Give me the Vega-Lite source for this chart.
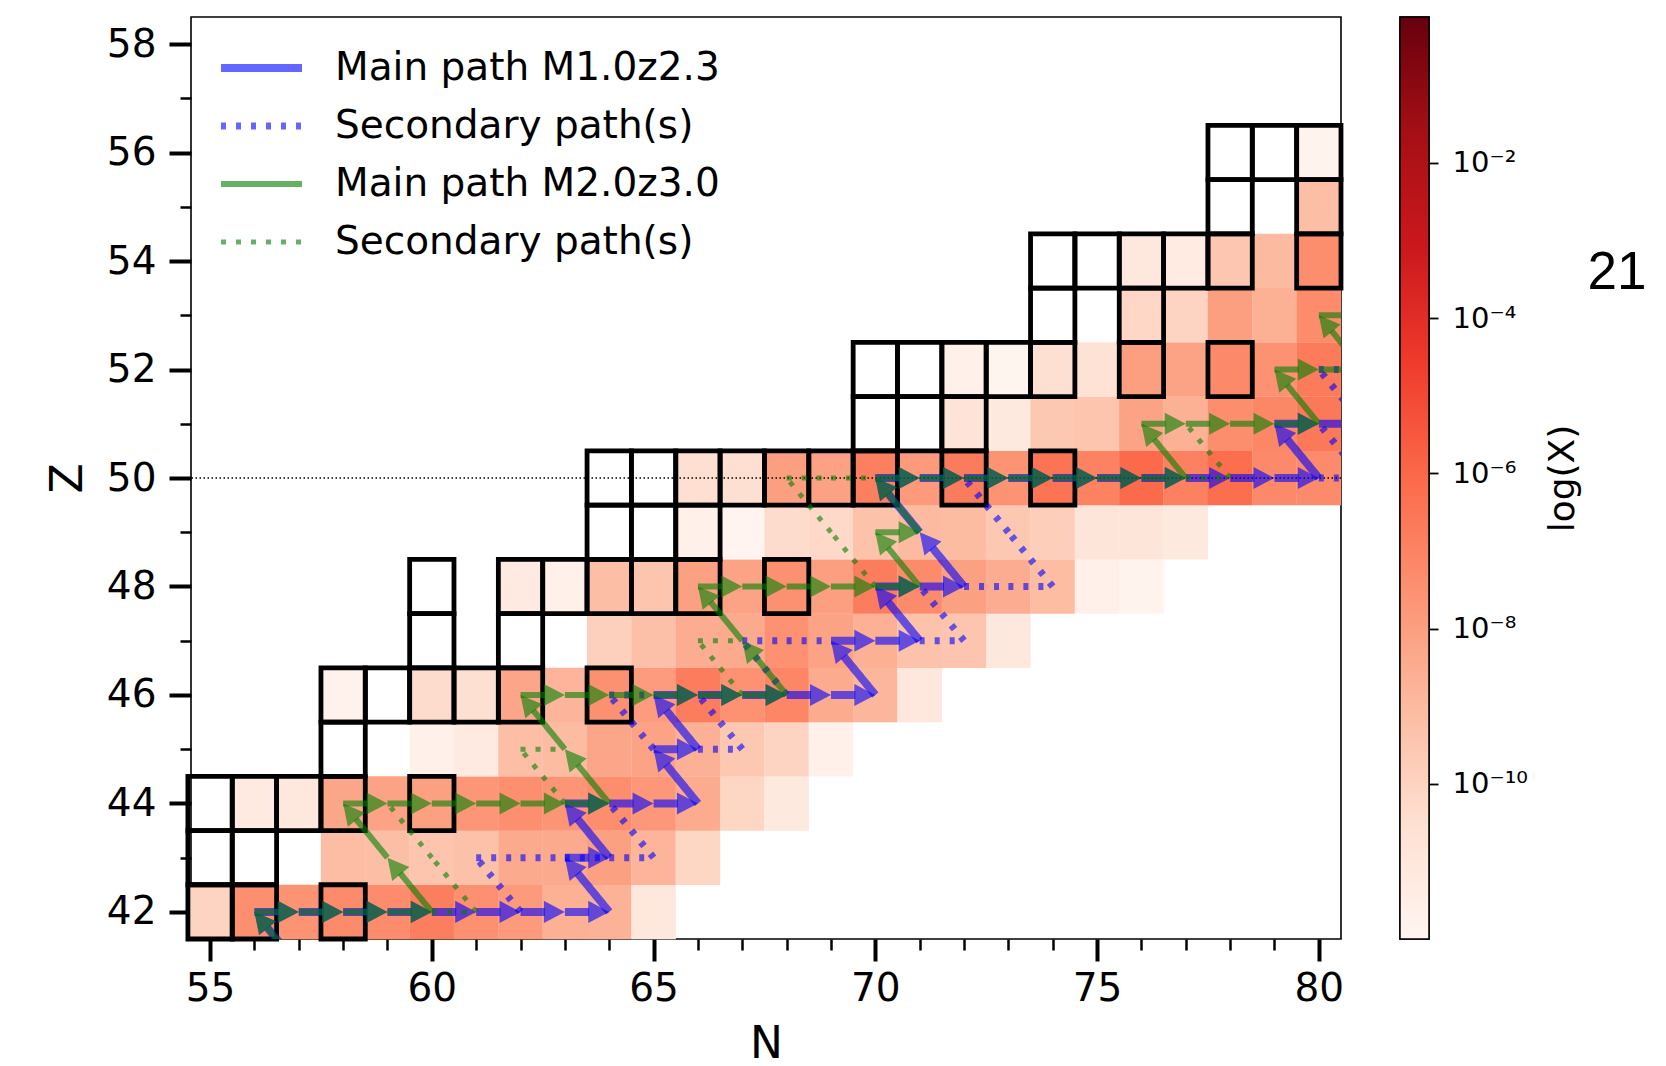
{
  "$schema": "https://vega.github.io/schema/vega-lite/v6.json",
  "background": "white",
  "padding": {"left": 45, "top": 15, "right": 0, "bottom": 0},
  "datasets": {
    "cells": [
      {"N":55,"Z":42,"logX":-10.0,"box":true},{"N":56,"Z":42,"logX":-7.44,"box":true},{"N":57,"Z":42,"logX":-7.58},{"N":58,"Z":42,"logX":-7.28,"box":true},{"N":59,"Z":42,"logX":-7.32},{"N":60,"Z":42,"logX":-6.8},{"N":61,"Z":42,"logX":-7.47},{"N":62,"Z":42,"logX":-7.83},{"N":63,"Z":42,"logX":-8.63},{"N":64,"Z":42,"logX":-8.71},{"N":65,"Z":42,"logX":-11.0},
      {"N":55,"Z":43,"logX":null,"box":true},{"N":56,"Z":43,"logX":null,"box":true},{"N":58,"Z":43,"logX":-9.11},{"N":59,"Z":43,"logX":-9.15},{"N":60,"Z":43,"logX":-9.43},{"N":61,"Z":43,"logX":-9.27},{"N":62,"Z":43,"logX":-8.41},{"N":63,"Z":43,"logX":-8.41},{"N":64,"Z":43,"logX":-8.05},{"N":65,"Z":43,"logX":-8.81},{"N":66,"Z":43,"logX":-10.1},
      {"N":55,"Z":44,"logX":null,"box":true},{"N":56,"Z":44,"logX":-11.22,"box":true},{"N":57,"Z":44,"logX":-11.08,"box":true},{"N":58,"Z":44,"logX":-8.27,"box":true},{"N":59,"Z":44,"logX":-8.16},{"N":60,"Z":44,"logX":-8.05,"box":true},{"N":61,"Z":44,"logX":-7.69},{"N":62,"Z":44,"logX":-7.44},{"N":63,"Z":44,"logX":-7.66},{"N":64,"Z":44,"logX":-7.36},{"N":65,"Z":44,"logX":-7.76},{"N":66,"Z":44,"logX":-8.45},{"N":67,"Z":44,"logX":-10.1},{"N":68,"Z":44,"logX":-11.15},
      {"N":58,"Z":45,"logX":null,"box":true},{"N":60,"Z":45,"logX":-11.65},{"N":61,"Z":45,"logX":-11.22},{"N":62,"Z":45,"logX":-9.15},{"N":63,"Z":45,"logX":-9.07},{"N":64,"Z":45,"logX":-8.27},{"N":65,"Z":45,"logX":-8.16},{"N":66,"Z":45,"logX":-8.67},{"N":67,"Z":45,"logX":-9.55},{"N":68,"Z":45,"logX":-10.0},{"N":69,"Z":45,"logX":-11.65},
      {"N":58,"Z":46,"logX":-11.8,"box":true},{"N":59,"Z":46,"logX":null,"box":true},{"N":60,"Z":46,"logX":-10.36,"box":true},{"N":61,"Z":46,"logX":-10.52,"box":true},{"N":62,"Z":46,"logX":-8.23,"box":true},{"N":63,"Z":46,"logX":-8.81},{"N":64,"Z":46,"logX":-7.51,"box":true},{"N":65,"Z":46,"logX":-7.88},{"N":66,"Z":46,"logX":-6.77},{"N":67,"Z":46,"logX":-7.55},{"N":68,"Z":46,"logX":-7.1},{"N":69,"Z":46,"logX":-8.45},{"N":70,"Z":46,"logX":-8.85},{"N":71,"Z":46,"logX":-11.0},
      {"N":60,"Z":47,"logX":null,"box":true},{"N":62,"Z":47,"logX":null,"box":true},{"N":64,"Z":47,"logX":-9.87},{"N":65,"Z":47,"logX":-9.23},{"N":66,"Z":47,"logX":-8.48},{"N":67,"Z":47,"logX":-8.41},{"N":68,"Z":47,"logX":-7.55},{"N":69,"Z":47,"logX":-8.16},{"N":70,"Z":47,"logX":-8.65},{"N":71,"Z":47,"logX":-9.31},{"N":72,"Z":47,"logX":-9.45},{"N":73,"Z":47,"logX":-11.08},
      {"N":60,"Z":48,"logX":null,"box":true},{"N":62,"Z":48,"logX":-11.22,"box":true},{"N":63,"Z":48,"logX":-11.65,"box":true},{"N":64,"Z":48,"logX":-9.15,"box":true},{"N":65,"Z":48,"logX":-9.41,"box":true},{"N":66,"Z":48,"logX":-8.05,"box":true},{"N":67,"Z":48,"logX":-8.16},{"N":68,"Z":48,"logX":-7.51,"box":true},{"N":69,"Z":48,"logX":-7.98},{"N":70,"Z":48,"logX":-6.77},{"N":71,"Z":48,"logX":-7.28},{"N":72,"Z":48,"logX":-8.05},{"N":73,"Z":48,"logX":-8.52},{"N":74,"Z":48,"logX":-9.1},{"N":75,"Z":48,"logX":-11.65},{"N":76,"Z":48,"logX":-11.86},
      {"N":64,"Z":49,"logX":null,"box":true},{"N":65,"Z":49,"logX":null,"box":true},{"N":66,"Z":49,"logX":-11.65,"box":true},{"N":67,"Z":49,"logX":-11.95},{"N":68,"Z":49,"logX":-10.36},{"N":69,"Z":49,"logX":-10.2},{"N":70,"Z":49,"logX":-9.31},{"N":71,"Z":49,"logX":-9.03},{"N":72,"Z":49,"logX":-9.07},{"N":73,"Z":49,"logX":-9.55},{"N":74,"Z":49,"logX":-9.8},{"N":75,"Z":49,"logX":-10.87},{"N":76,"Z":49,"logX":-10.85},{"N":77,"Z":49,"logX":-11.15},
      {"N":64,"Z":50,"logX":null,"box":true},{"N":65,"Z":50,"logX":null,"box":true},{"N":66,"Z":50,"logX":-10.52,"box":true},{"N":67,"Z":50,"logX":-10.52,"box":true},{"N":68,"Z":50,"logX":-8.02,"box":true},{"N":69,"Z":50,"logX":-8.09,"box":true},{"N":70,"Z":50,"logX":-6.84,"box":true},{"N":71,"Z":50,"logX":-7.83},{"N":72,"Z":50,"logX":-6.73,"box":true},{"N":73,"Z":50,"logX":-7.6},{"N":74,"Z":50,"logX":-6.45,"box":true},{"N":75,"Z":50,"logX":-6.95},{"N":76,"Z":50,"logX":-6.1},{"N":77,"Z":50,"logX":-6.91},{"N":78,"Z":50,"logX":-6.21},{"N":79,"Z":50,"logX":-7.25},{"N":80,"Z":50,"logX":-7.28},
      {"N":70,"Z":51,"logX":null,"box":true},{"N":71,"Z":51,"logX":null,"box":true},{"N":72,"Z":51,"logX":-10.8,"box":true},{"N":73,"Z":51,"logX":-11.15},{"N":74,"Z":51,"logX":-9.55},{"N":75,"Z":51,"logX":-9.41},{"N":76,"Z":51,"logX":-8.13},{"N":77,"Z":51,"logX":-8.63},{"N":78,"Z":51,"logX":-7.4},{"N":79,"Z":51,"logX":-7.14},{"N":80,"Z":51,"logX":-6.62},
      {"N":70,"Z":52,"logX":null,"box":true},{"N":71,"Z":52,"logX":null,"box":true},{"N":72,"Z":52,"logX":-11.65,"box":true},{"N":73,"Z":52,"logX":-11.97,"box":true},{"N":74,"Z":52,"logX":-10.52,"box":true},{"N":75,"Z":52,"logX":-10.66},{"N":76,"Z":52,"logX":-7.98,"box":true},{"N":77,"Z":52,"logX":-8.13},{"N":78,"Z":52,"logX":-7.25,"box":true},{"N":79,"Z":52,"logX":-7.55},{"N":80,"Z":52,"logX":-6.69},
      {"N":74,"Z":53,"logX":null,"box":true},{"N":76,"Z":53,"logX":-10.16,"box":true},{"N":77,"Z":53,"logX":-10.0},{"N":78,"Z":53,"logX":-7.98},{"N":79,"Z":53,"logX":-8.63},{"N":80,"Z":53,"logX":-7.32},
      {"N":74,"Z":54,"logX":null,"box":true},{"N":75,"Z":54,"logX":null,"box":true},{"N":76,"Z":54,"logX":-11.08,"box":true},{"N":77,"Z":54,"logX":-11.3,"box":true},{"N":78,"Z":54,"logX":-9.47,"box":true},{"N":79,"Z":54,"logX":-9.03},{"N":80,"Z":54,"logX":-7.36,"box":true},
      {"N":78,"Z":55,"logX":null,"box":true},{"N":80,"Z":55,"logX":-9.15,"box":true},
      {"N":78,"Z":56,"logX":null,"box":true},{"N":79,"Z":56,"logX":null,"box":true},{"N":80,"Z":56,"logX":-11.86,"box":true}
    ],
    "steps": [
      {"series":"b1","step":"b","N0":57,"Z0":41,"N1":56,"Z1":42},
      {"series":"b1","step":"n","N0":56,"Z0":42,"N1":57,"Z1":42},
      {"series":"b1","step":"n","N0":57,"Z0":42,"N1":58,"Z1":42},
      {"series":"b1","step":"n","N0":58,"Z0":42,"N1":59,"Z1":42},
      {"series":"b1","step":"n","N0":59,"Z0":42,"N1":60,"Z1":42},
      {"series":"b1","step":"n","N0":60,"Z0":42,"N1":61,"Z1":42},
      {"series":"b1","step":"n","N0":61,"Z0":42,"N1":62,"Z1":42},
      {"series":"b1","step":"n","N0":62,"Z0":42,"N1":63,"Z1":42},
      {"series":"b1","step":"n","N0":63,"Z0":42,"N1":64,"Z1":42},
      {"series":"b1","step":"b","N0":64,"Z0":42,"N1":63,"Z1":43},
      {"series":"b1","step":"n","N0":63,"Z0":43,"N1":64,"Z1":43},
      {"series":"b1","step":"b","N0":64,"Z0":43,"N1":63,"Z1":44},
      {"series":"b1","step":"n","N0":63,"Z0":44,"N1":64,"Z1":44},
      {"series":"b1","step":"n","N0":64,"Z0":44,"N1":65,"Z1":44},
      {"series":"b1","step":"n","N0":65,"Z0":44,"N1":66,"Z1":44},
      {"series":"b1","step":"b","N0":66,"Z0":44,"N1":65,"Z1":45},
      {"series":"b1","step":"n","N0":65,"Z0":45,"N1":66,"Z1":45},
      {"series":"b1","step":"b","N0":66,"Z0":45,"N1":65,"Z1":46},
      {"series":"b1","step":"n","N0":65,"Z0":46,"N1":66,"Z1":46},
      {"series":"b1","step":"n","N0":66,"Z0":46,"N1":67,"Z1":46},
      {"series":"b1","step":"n","N0":67,"Z0":46,"N1":68,"Z1":46},
      {"series":"b1","step":"n","N0":68,"Z0":46,"N1":69,"Z1":46},
      {"series":"b1","step":"n","N0":69,"Z0":46,"N1":70,"Z1":46},
      {"series":"b1","step":"b","N0":70,"Z0":46,"N1":69,"Z1":47},
      {"series":"b1","step":"n","N0":69,"Z0":47,"N1":70,"Z1":47},
      {"series":"b1","step":"n","N0":70,"Z0":47,"N1":71,"Z1":47},
      {"series":"b1","step":"b","N0":71,"Z0":47,"N1":70,"Z1":48},
      {"series":"b1","step":"n","N0":70,"Z0":48,"N1":71,"Z1":48},
      {"series":"b1","step":"n","N0":71,"Z0":48,"N1":72,"Z1":48},
      {"series":"b1","step":"b","N0":72,"Z0":48,"N1":71,"Z1":49},
      {"series":"b1","step":"b","N0":71,"Z0":49,"N1":70,"Z1":50},
      {"series":"b1","step":"n","N0":70,"Z0":50,"N1":71,"Z1":50},
      {"series":"b1","step":"n","N0":71,"Z0":50,"N1":72,"Z1":50},
      {"series":"b1","step":"n","N0":72,"Z0":50,"N1":73,"Z1":50},
      {"series":"b1","step":"n","N0":73,"Z0":50,"N1":74,"Z1":50},
      {"series":"b1","step":"n","N0":74,"Z0":50,"N1":75,"Z1":50},
      {"series":"b1","step":"n","N0":75,"Z0":50,"N1":76,"Z1":50},
      {"series":"b1","step":"n","N0":76,"Z0":50,"N1":77,"Z1":50},
      {"series":"b1","step":"n","N0":77,"Z0":50,"N1":78,"Z1":50},
      {"series":"b1","step":"n","N0":78,"Z0":50,"N1":79,"Z1":50},
      {"series":"b1","step":"n","N0":79,"Z0":50,"N1":80,"Z1":50},
      {"series":"b1","step":"b","N0":80,"Z0":50,"N1":79,"Z1":51},
      {"series":"b1","step":"n","N0":79,"Z0":51,"N1":80,"Z1":51},
      {"series":"b1","step":"n","N0":80,"Z0":51,"N1":81,"Z1":51},
      {"series":"b2","step":"b","N0":62,"Z0":42,"N1":61,"Z1":43},
      {"series":"b2","step":"n","N0":61,"Z0":43,"N1":62,"Z1":43},
      {"series":"b2","step":"n","N0":62,"Z0":43,"N1":63,"Z1":43},
      {"series":"b2","step":"n","N0":63,"Z0":43,"N1":64,"Z1":43},
      {"series":"b2","step":"n","N0":64,"Z0":43,"N1":65,"Z1":43},
      {"series":"b2","step":"b","N0":65,"Z0":43,"N1":64,"Z1":44},
      {"series":"b2","step":"b","N0":65,"Z0":45,"N1":64,"Z1":46},
      {"series":"b2","step":"n","N0":64,"Z0":46,"N1":65,"Z1":46},
      {"series":"b2","step":"n","N0":66,"Z0":45,"N1":67,"Z1":45},
      {"series":"b2","step":"b","N0":67,"Z0":45,"N1":66,"Z1":46},
      {"series":"b2","step":"b","N0":68,"Z0":46,"N1":67,"Z1":47},
      {"series":"b2","step":"n","N0":67,"Z0":47,"N1":68,"Z1":47},
      {"series":"b2","step":"n","N0":68,"Z0":47,"N1":69,"Z1":47},
      {"series":"b2","step":"n","N0":71,"Z0":47,"N1":72,"Z1":47},
      {"series":"b2","step":"b","N0":72,"Z0":47,"N1":71,"Z1":48},
      {"series":"b2","step":"n","N0":72,"Z0":48,"N1":73,"Z1":48},
      {"series":"b2","step":"n","N0":73,"Z0":48,"N1":74,"Z1":48},
      {"series":"b2","step":"b","N0":74,"Z0":48,"N1":73,"Z1":49},
      {"series":"b2","step":"b","N0":73,"Z0":49,"N1":72,"Z1":50},
      {"series":"b2","step":"n","N0":80,"Z0":50,"N1":81,"Z1":50},
      {"series":"b2","step":"b","N0":81,"Z0":50,"N1":80,"Z1":51},
      {"series":"b2","step":"b","N0":81,"Z0":51,"N1":80,"Z1":52},
      {"series":"b2","step":"n","N0":80,"Z0":52,"N1":81,"Z1":52},
      {"series":"g1","step":"b","N0":57,"Z0":41,"N1":56,"Z1":42},
      {"series":"g1","step":"n","N0":56,"Z0":42,"N1":57,"Z1":42},
      {"series":"g1","step":"n","N0":57,"Z0":42,"N1":58,"Z1":42},
      {"series":"g1","step":"n","N0":58,"Z0":42,"N1":59,"Z1":42},
      {"series":"g1","step":"n","N0":59,"Z0":42,"N1":60,"Z1":42},
      {"series":"g1","step":"b","N0":60,"Z0":42,"N1":59,"Z1":43},
      {"series":"g1","step":"b","N0":59,"Z0":43,"N1":58,"Z1":44},
      {"series":"g1","step":"n","N0":58,"Z0":44,"N1":59,"Z1":44},
      {"series":"g1","step":"n","N0":59,"Z0":44,"N1":60,"Z1":44},
      {"series":"g1","step":"n","N0":60,"Z0":44,"N1":61,"Z1":44},
      {"series":"g1","step":"n","N0":61,"Z0":44,"N1":62,"Z1":44},
      {"series":"g1","step":"n","N0":62,"Z0":44,"N1":63,"Z1":44},
      {"series":"g1","step":"n","N0":63,"Z0":44,"N1":64,"Z1":44},
      {"series":"g1","step":"b","N0":64,"Z0":44,"N1":63,"Z1":45},
      {"series":"g1","step":"b","N0":63,"Z0":45,"N1":62,"Z1":46},
      {"series":"g1","step":"n","N0":62,"Z0":46,"N1":63,"Z1":46},
      {"series":"g1","step":"n","N0":63,"Z0":46,"N1":64,"Z1":46},
      {"series":"g1","step":"n","N0":64,"Z0":46,"N1":65,"Z1":46},
      {"series":"g1","step":"n","N0":65,"Z0":46,"N1":66,"Z1":46},
      {"series":"g1","step":"n","N0":66,"Z0":46,"N1":67,"Z1":46},
      {"series":"g1","step":"n","N0":67,"Z0":46,"N1":68,"Z1":46},
      {"series":"g1","step":"b","N0":68,"Z0":46,"N1":67,"Z1":47},
      {"series":"g1","step":"b","N0":67,"Z0":47,"N1":66,"Z1":48},
      {"series":"g1","step":"n","N0":66,"Z0":48,"N1":67,"Z1":48},
      {"series":"g1","step":"n","N0":67,"Z0":48,"N1":68,"Z1":48},
      {"series":"g1","step":"n","N0":68,"Z0":48,"N1":69,"Z1":48},
      {"series":"g1","step":"n","N0":69,"Z0":48,"N1":70,"Z1":48},
      {"series":"g1","step":"n","N0":70,"Z0":48,"N1":71,"Z1":48},
      {"series":"g1","step":"b","N0":71,"Z0":48,"N1":70,"Z1":49},
      {"series":"g1","step":"n","N0":70,"Z0":49,"N1":71,"Z1":49},
      {"series":"g1","step":"b","N0":71,"Z0":49,"N1":70,"Z1":50},
      {"series":"g1","step":"n","N0":70,"Z0":50,"N1":71,"Z1":50},
      {"series":"g1","step":"n","N0":71,"Z0":50,"N1":72,"Z1":50},
      {"series":"g1","step":"n","N0":72,"Z0":50,"N1":73,"Z1":50},
      {"series":"g1","step":"n","N0":73,"Z0":50,"N1":74,"Z1":50},
      {"series":"g1","step":"n","N0":74,"Z0":50,"N1":75,"Z1":50},
      {"series":"g1","step":"n","N0":75,"Z0":50,"N1":76,"Z1":50},
      {"series":"g1","step":"n","N0":76,"Z0":50,"N1":77,"Z1":50},
      {"series":"g1","step":"b","N0":77,"Z0":50,"N1":76,"Z1":51},
      {"series":"g1","step":"n","N0":76,"Z0":51,"N1":77,"Z1":51},
      {"series":"g1","step":"n","N0":77,"Z0":51,"N1":78,"Z1":51},
      {"series":"g1","step":"n","N0":78,"Z0":51,"N1":79,"Z1":51},
      {"series":"g1","step":"n","N0":79,"Z0":51,"N1":80,"Z1":51},
      {"series":"g1","step":"b","N0":80,"Z0":51,"N1":79,"Z1":52},
      {"series":"g1","step":"n","N0":79,"Z0":52,"N1":80,"Z1":52},
      {"series":"g1","step":"n","N0":80,"Z0":52,"N1":81,"Z1":52},
      {"series":"g1","step":"b","N0":81,"Z0":52,"N1":80,"Z1":53},
      {"series":"g1","step":"n","N0":80,"Z0":53,"N1":81,"Z1":53},
      {"series":"g2","step":"n","N0":60,"Z0":42,"N1":61,"Z1":42},
      {"series":"g2","step":"b","N0":61,"Z0":42,"N1":60,"Z1":43},
      {"series":"g2","step":"b","N0":60,"Z0":43,"N1":59,"Z1":44},
      {"series":"g2","step":"b","N0":63,"Z0":44,"N1":62,"Z1":45},
      {"series":"g2","step":"n","N0":62,"Z0":45,"N1":63,"Z1":45},
      {"series":"g2","step":"b","N0":67,"Z0":46,"N1":66,"Z1":47},
      {"series":"g2","step":"n","N0":66,"Z0":47,"N1":67,"Z1":47},
      {"series":"g2","step":"b","N0":70,"Z0":48,"N1":69,"Z1":49},
      {"series":"g2","step":"b","N0":69,"Z0":49,"N1":68,"Z1":50},
      {"series":"g2","step":"n","N0":68,"Z0":50,"N1":69,"Z1":50},
      {"series":"g2","step":"n","N0":69,"Z0":50,"N1":70,"Z1":50},
      {"series":"g2","step":"n","N0":77,"Z0":50,"N1":78,"Z1":50},
      {"series":"g2","step":"b","N0":78,"Z0":50,"N1":77,"Z1":51}
    ]
  },
  "spacing": 46,
  "resolve": {
    "scale": {"color": "independent", "strokeDash": "independent", "strokeWidth": "independent", "fill": "independent"},
    "legend": {"color": "independent", "strokeDash": "independent", "strokeWidth": "independent", "fill": "independent"}
  },
  "hconcat": [
    {
      "width": 1150,
      "height": 922,
      "layer": [
        {
          "data": {"name": "cells"},
          "transform": [{"filter": "datum.logX != null"}],
          "mark": {"type": "point", "shape": "M-1,-1.222L1,-1.222L1,1.222L-1,1.222Z", "size": 1989, "filled": true, "opacity": 1, "strokeWidth": 0},
          "encoding": {
            "x": {"field": "N", "type": "quantitative", "title": "N",
              "scale": {"domain": [54.57, 80.5], "nice": false, "zero": false},
              "axis": {"values": [55,56,57,58,59,60,61,62,63,64,65,66,67,68,69,70,71,72,73,74,75,76,77,78,79,80],
                "labelExpr": "datum.value % 5 === 0 ? datum.label : ''",
                "tickSize": {"condition": {"test": "datum.value % 5 === 0", "value": 22}, "value": 11},
                "tickWidth": {"condition": {"test": "datum.value % 5 === 0", "value": 4}, "value": 2.5},
                "labelPadding": 8, "titlePadding": 14, "grid": false, "domain": false, "labelOverlap": false, "labelFlush": false}},
            "y": {"field": "Z", "type": "quantitative", "title": "Z",
              "scale": {"domain": [41.5, 58.5], "nice": false, "zero": false},
              "axis": {"values": [42,43,44,45,46,47,48,49,50,51,52,53,54,55,56,57,58],
                "labelExpr": "datum.value % 2 === 0 ? datum.label : ''",
                "tickSize": {"condition": {"test": "datum.value % 2 === 0", "value": 22}, "value": 11},
                "tickWidth": {"condition": {"test": "datum.value % 2 === 0", "value": 4}, "value": 2.5},
                "labelPadding": 13, "titlePadding": 16, "grid": false, "domain": false, "labelOverlap": false, "labelFlush": false}},
            "fill": {"field": "logX", "type": "quantitative",
              "scale": {"domain": [-12, -10.515, -9.03, -7.545, -6.06, -4.575, -3.09, -1.605, -0.12],
                "range": ["#fff5f0","#fee0d2","#fcbba1","#fc9272","#fb6a4a","#ef3b2c","#cb181d","#a50f15","#67000d"], "interpolate": "rgb"},
              "legend": null}
          }
        },
        {
          "data": {"name": "cells"},
          "transform": [{"filter": "datum.box"}],
          "mark": {"type": "point", "shape": "M-1,-1.2236L1,-1.2236L1,1.2236L-1,1.2236Z", "size": 1965, "filled": false, "stroke": "black", "color": "black", "strokeWidth": 4.8, "opacity": 1},
          "encoding": {
            "x": {"field": "N", "type": "quantitative", "title": "N"},
            "y": {"field": "Z", "type": "quantitative", "title": "Z"}
          }
        },
        {
          "data": {"values": [{}]},
          "mark": {"type": "rule", "strokeDash": [1.5, 2.5], "strokeWidth": 1.3, "color": "black"},
          "encoding": {"y": {"datum": 50, "type": "quantitative"}}
        },
        {
          "data": {"name": "steps"},
          "transform": [{"filter": "datum.series == 'b1' && datum.step == 'n'"}],
          "mark": {"type": "rule", "opacity": 0.6, "clip": true, "x2Offset": -20},
          "encoding": {
            "x": {"field": "N0", "type": "quantitative", "title": "N"}, "x2": {"field": "N1"},
            "y": {"field": "Z0", "type": "quantitative", "title": "Z"}, "y2": {"field": "Z1"},
            "color": {"field": "series", "type": "nominal", "scale": {"domain": ["b1","b2","g1","g2"], "range": ["#0000ff","#0000ff","#008000","#008000"]},
              "legend": {"orient": "none", "legendX": 26, "legendY": 32, "title": null, "padding": 0, "symbolType": "stroke", "symbolSize": 6561, "symbolOpacity": 0.6, "symbolStrokeWidth": 6, "labelOffset": 29, "rowPadding": 19, "clipHeight": 38, "labelFontSize": 39, "labelFont": "DejaVu Sans", "labelColor": "black", "labelLimit": 0,
                "labelExpr": "datum.value == 'b1' ? 'Main path M1.0z2.3' : datum.value == 'g1' ? 'Main path M2.0z3.0' : 'Secondary path(s)'"}},
            "strokeDash": {"field": "series", "type": "nominal", "scale": {"domain": ["b1","b2","g1","g2"], "range": [[1,0],[5,10],[1,0],[5,10]]},
              "legend": {"orient": "none", "legendX": 26, "legendY": 32, "title": null, "padding": 0, "symbolType": "stroke", "symbolSize": 6561, "symbolOpacity": 0.6, "symbolStrokeWidth": 6, "labelOffset": 29, "rowPadding": 19, "clipHeight": 38, "labelFontSize": 39, "labelFont": "DejaVu Sans", "labelColor": "black", "labelLimit": 0,
                "labelExpr": "datum.value == 'b1' ? 'Main path M1.0z2.3' : datum.value == 'g1' ? 'Main path M2.0z3.0' : 'Secondary path(s)'"}},
            "strokeWidth": {"field": "series", "type": "nominal", "scale": {"domain": ["b1","b2","g1","g2"], "range": [8,5,8,5]},
              "legend": {"orient": "none", "legendX": 26, "legendY": 32, "title": null, "padding": 0, "symbolType": "stroke", "symbolSize": 6561, "symbolOpacity": 0.6, "symbolStrokeWidth": 6, "labelOffset": 29, "rowPadding": 19, "clipHeight": 38, "labelFontSize": 39, "labelFont": "DejaVu Sans", "labelColor": "black", "labelLimit": 0,
                "labelExpr": "datum.value == 'b1' ? 'Main path M1.0z2.3' : datum.value == 'g1' ? 'Main path M2.0z3.0' : 'Secondary path(s)'"}}
          }
        },
        {
          "data": {"name": "steps"},
          "transform": [{"filter": "datum.series == 'b1' && datum.step == 'b'"}],
          "mark": {"type": "rule", "opacity": 0.6, "clip": true, "x2Offset": 12.66, "y2Offset": 15.48},
          "encoding": {
            "x": {"field": "N0", "type": "quantitative", "title": "N"}, "x2": {"field": "N1"},
            "y": {"field": "Z0", "type": "quantitative", "title": "Z"}, "y2": {"field": "Z1"},
            "color": {"field": "series", "type": "nominal"},
            "strokeDash": {"field": "series", "type": "nominal"},
            "strokeWidth": {"field": "series", "type": "nominal"}
          }
        },
        {
          "data": {"name": "steps"},
          "transform": [{"filter": "datum.series == 'b1' && datum.step == 'n'"}],
          "mark": {"type": "point", "shape": "M0,0L-2,-1.05L-2,1.05Z", "size": 441, "filled": true, "color": "#0000ff", "opacity": 0.6, "strokeWidth": 0, "angle": 0, "clip": true},
          "encoding": {"x": {"field": "N1", "type": "quantitative", "title": "N"}, "y": {"field": "Z1", "type": "quantitative", "title": "Z"}}
        },
        {
          "data": {"name": "steps"},
          "transform": [{"filter": "datum.series == 'b1' && datum.step == 'b'"}],
          "mark": {"type": "point", "shape": "M0,0L-2,-1.05L-2,1.05Z", "size": 441, "filled": true, "color": "#0000ff", "opacity": 0.6, "strokeWidth": 0, "angle": 230.73, "clip": true},
          "encoding": {"x": {"field": "N1", "type": "quantitative", "title": "N"}, "y": {"field": "Z1", "type": "quantitative", "title": "Z"}}
        },
        {
          "data": {"name": "steps"},
          "transform": [{"filter": "datum.series == 'b2'"}],
          "mark": {"type": "rule", "opacity": 0.6, "clip": true},
          "encoding": {
            "x": {"field": "N0", "type": "quantitative", "title": "N"}, "x2": {"field": "N1"},
            "y": {"field": "Z0", "type": "quantitative", "title": "Z"}, "y2": {"field": "Z1"},
            "color": {"field": "series", "type": "nominal"},
            "strokeDash": {"field": "series", "type": "nominal"},
            "strokeWidth": {"field": "series", "type": "nominal"}
          }
        },
        {
          "data": {"name": "steps"},
          "transform": [{"filter": "datum.series == 'g1' && datum.step == 'n'"}],
          "mark": {"type": "rule", "opacity": 0.6, "clip": true, "x2Offset": -20},
          "encoding": {
            "x": {"field": "N0", "type": "quantitative", "title": "N"}, "x2": {"field": "N1"},
            "y": {"field": "Z0", "type": "quantitative", "title": "Z"}, "y2": {"field": "Z1"},
            "color": {"field": "series", "type": "nominal"},
            "strokeDash": {"field": "series", "type": "nominal"},
            "strokeWidth": {"field": "series", "type": "nominal"}
          }
        },
        {
          "data": {"name": "steps"},
          "transform": [{"filter": "datum.series == 'g1' && datum.step == 'b'"}],
          "mark": {"type": "rule", "opacity": 0.6, "clip": true, "x2Offset": 12.66, "y2Offset": 15.48},
          "encoding": {
            "x": {"field": "N0", "type": "quantitative", "title": "N"}, "x2": {"field": "N1"},
            "y": {"field": "Z0", "type": "quantitative", "title": "Z"}, "y2": {"field": "Z1"},
            "color": {"field": "series", "type": "nominal"},
            "strokeDash": {"field": "series", "type": "nominal"},
            "strokeWidth": {"field": "series", "type": "nominal"}
          }
        },
        {
          "data": {"name": "steps"},
          "transform": [{"filter": "datum.series == 'g1' && datum.step == 'n'"}],
          "mark": {"type": "point", "shape": "M0,0L-2,-1.05L-2,1.05Z", "size": 441, "filled": true, "color": "#008000", "opacity": 0.6, "strokeWidth": 0, "angle": 0, "clip": true},
          "encoding": {"x": {"field": "N1", "type": "quantitative", "title": "N"}, "y": {"field": "Z1", "type": "quantitative", "title": "Z"}}
        },
        {
          "data": {"name": "steps"},
          "transform": [{"filter": "datum.series == 'g1' && datum.step == 'b'"}],
          "mark": {"type": "point", "shape": "M0,0L-2,-1.05L-2,1.05Z", "size": 441, "filled": true, "color": "#008000", "opacity": 0.6, "strokeWidth": 0, "angle": 230.73, "clip": true},
          "encoding": {"x": {"field": "N1", "type": "quantitative", "title": "N"}, "y": {"field": "Z1", "type": "quantitative", "title": "Z"}}
        },
        {
          "data": {"name": "steps"},
          "transform": [{"filter": "datum.series == 'g2'"}],
          "mark": {"type": "rule", "opacity": 0.6, "clip": true},
          "encoding": {
            "x": {"field": "N0", "type": "quantitative", "title": "N"}, "x2": {"field": "N1"},
            "y": {"field": "Z0", "type": "quantitative", "title": "Z"}, "y2": {"field": "Z1"},
            "color": {"field": "series", "type": "nominal"},
            "strokeDash": {"field": "series", "type": "nominal"},
            "strokeWidth": {"field": "series", "type": "nominal"}
          }
        }
      ]
    },
    {
      "width": 29,
      "height": 922,
      "data": {"values": [{}]},
      "title": {"text": "21", "orient": "right", "anchor": "start", "angle": 0, "align": "left", "baseline": "top", "font": "Liberation Sans", "fontSize": 53, "fontWeight": "normal", "color": "black", "offset": -52, "dy": 231},
      "mark": {"type": "rect", "stroke": "black", "strokeWidth": 1.5,
        "fill": {"gradient": "linear", "x1": 0, "y1": 1, "x2": 0, "y2": 0,
          "stops": [
            {"offset": 0, "color": "#fff5f0"}, {"offset": 0.125, "color": "#fee0d2"}, {"offset": 0.25, "color": "#fcbba1"},
            {"offset": 0.375, "color": "#fc9272"}, {"offset": 0.5, "color": "#fb6a4a"}, {"offset": 0.625, "color": "#ef3b2c"},
            {"offset": 0.75, "color": "#cb181d"}, {"offset": 0.875, "color": "#a50f15"}, {"offset": 1, "color": "#67000d"}]}},
      "encoding": {
        "y": {"datum": -12, "type": "quantitative",
          "scale": {"domain": [-12, -0.12], "nice": false, "zero": false},
          "axis": {"orient": "right", "values": [-10, -8, -6, -4, -2], "title": "log(X)",
            "labelExpr": "datum.value == -10 ? '10⁻¹⁰' : datum.value == -8 ? '10⁻⁸' : datum.value == -6 ? '10⁻⁶' : datum.value == -4 ? '10⁻⁴' : '10⁻²'",
            "tickSize": 9, "tickWidth": 1.8, "labelPadding": 14, "labelFontSize": 29, "titleFontSize": 36, "titleAngle": 270, "titleBaseline": "top", "titlePadding": 18,
            "grid": false, "domain": false}},
        "y2": {"datum": -0.12}
      }
    }
  ],
  "config": {
    "font": "DejaVu Sans",
    "view": {"stroke": "black", "strokeWidth": 1.6},
    "axis": {"labelFont": "DejaVu Sans", "labelFontSize": 39, "labelColor": "black", "titleFont": "DejaVu Sans", "titleFontSize": 44, "titleFontWeight": "normal", "titleColor": "black", "tickColor": "black"}
  }
}
